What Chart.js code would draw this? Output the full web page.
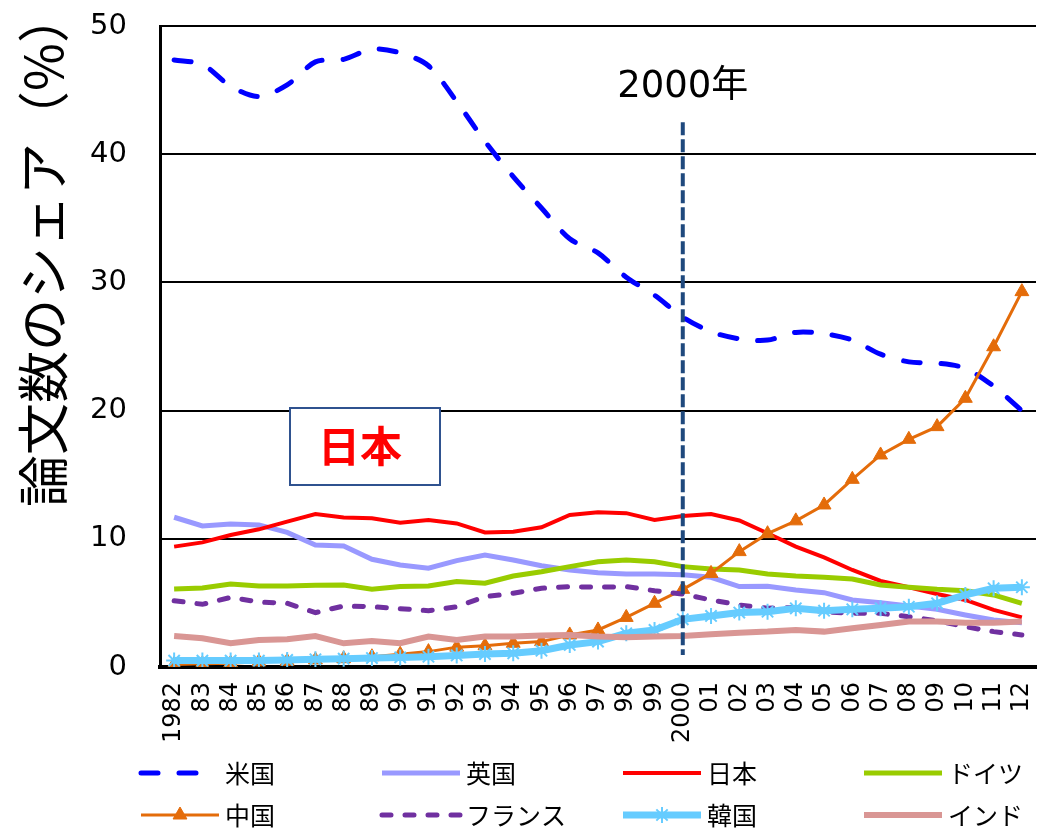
<!DOCTYPE html>
<html>
<head>
<meta charset="utf-8">
<script src="https://cdn.jsdelivr.net/npm/chart.js@4/dist/chart.umd.min.js"></script>
<style>
  html, body { margin: 0; padding: 0; background: #fff; }
  #wrap { width: 1047px; height: 830px; position: relative; }
</style>
</head>
<body>
<div id="wrap"><canvas id="shareChart"></canvas></div>
<script>
const years = ['1982', '83', '84', '85', '86', '87', '88', '89', '90', '91', '92', '93', '94', '95', '96', '97', '98', '99',
    '2000', '01', '02', '03', '04', '05', '06', '07', '08', '09', '10', '11', '12'];
const yTicks = [0, 10, 20, 30, 40, 50];
const yTitle = '論文数のシェア（%）';

const usShare = [47.35, 47.0, 45.3, 44.5, 45.4, 47.2, 47.4, 48.2, 47.9, 46.9, 44.1,
    41.0, 38.25, 35.8, 33.4, 32.3, 30.4, 29.0,
    27.3, 26.15, 25.6, 25.5, 26.1, 26.0, 25.5, 24.4, 23.8, 23.7, 23.3, 21.9, 20.0];
const ukShare = [11.68, 11.0, 11.15, 11.08, 10.5, 9.52, 9.44, 8.4, 7.96, 7.7, 8.3,
    8.74, 8.35, 7.9, 7.57, 7.36, 7.25, 7.25,
    7.2, 7.0, 6.27, 6.3, 6.0, 5.8, 5.23, 5.02, 4.76, 4.5, 4.06, 3.67, 3.46];
const japanShare = [9.39, 9.72, 10.3, 10.74, 11.34, 11.93, 11.67, 11.6, 11.26, 11.47, 11.2,
    10.5, 10.55, 10.9, 11.86, 12.07, 12.0, 11.47,
    11.78, 11.93, 11.43, 10.43, 9.39, 8.55, 7.57, 6.71, 6.22, 5.69, 5.23, 4.45, 3.87];
const germanyShare = [6.08, 6.16, 6.47, 6.32, 6.32, 6.37, 6.4, 6.06, 6.27, 6.32, 6.66,
    6.53, 7.1, 7.43, 7.83, 8.21, 8.35, 8.21,
    7.83, 7.64, 7.57, 7.25, 7.1, 7.0, 6.86, 6.4, 6.22, 6.06, 5.95, 5.62, 4.97];
const chinaShare = [0.2, 0.25, 0.3, 0.4, 0.45, 0.55, 0.65, 0.8, 1.0, 1.2, 1.55,
    1.66, 1.85, 1.98, 2.5, 2.89, 3.87, 4.97,
    6.06, 7.3, 9.0, 10.4, 11.4, 12.64, 14.64, 16.54, 17.76, 18.75, 20.96, 24.98, 29.28];
const franceShare = [5.17, 4.89, 5.43, 5.07, 4.97, 4.24, 4.76, 4.7, 4.55, 4.39, 4.7,
    5.48, 5.75, 6.14, 6.27, 6.22, 6.27, 5.95,
    5.69, 5.23, 4.84, 4.58, 4.65, 4.31, 4.19, 4.19, 3.92, 3.61, 3.14, 2.76, 2.5];
const koreaShare = [0.5, 0.5, 0.5, 0.5, 0.55, 0.6, 0.65, 0.7, 0.75, 0.8, 0.9,
    1.01, 1.07, 1.27, 1.72, 1.98, 2.63, 2.89,
    3.72, 3.98, 4.25, 4.31, 4.58, 4.39, 4.5, 4.58, 4.7, 4.97, 5.62, 6.14, 6.22];
const indiaShare = [2.42, 2.24, 1.85, 2.11, 2.16, 2.42, 1.85, 2.03, 1.85, 2.37, 2.11,
    2.37, 2.37, 2.45, 2.5, 2.37, 2.32, 2.37,
    2.42, 2.55, 2.68, 2.76, 2.89, 2.76, 3.02, 3.28, 3.54, 3.54, 3.46, 3.46, 3.54];

const markerYear = '2000';
const markerRange = [0.94, 42.5];

Chart.defaults.font.family = '"DejaVu Sans", "Noto Sans CJK JP", sans-serif';
Chart.defaults.color = '#000';

function lineSet(label, data, color, width, extra) {
    return Object.assign({
        label: label,
        data: data,
        borderColor: color,
        backgroundColor: color,
        borderWidth: width,
        pointRadius: 0,
        tension: 0,
        fill: false
    }, extra || {});
}

const datasets = [
    lineSet('米国', usShare, '#0000ff', 5, { borderDash: [17, 21], borderCapStyle: 'round', tension: 0.3 }),
    lineSet('英国', ukShare, '#9999ff', 5),
    lineSet('日本', japanShare, '#ff0000', 4),
    lineSet('ドイツ', germanyShare, '#99cc00', 5),
    lineSet('中国', chinaShare, '#e46c0a', 3, { pointStyle: 'triangle', pointRadius: 8, pointBorderWidth: 1 }),
    lineSet('フランス', franceShare, '#7030a0', 5, { borderDash: [9, 14], borderCapStyle: 'round' }),
    lineSet('韓国', koreaShare, '#66ccff', 7, { pointStyle: 'star', pointRadius: 8, pointBorderWidth: 2 }),
    lineSet('インド', indiaShare, '#d99694', 6)
];
// later series sit on top, like the original
datasets.forEach((ds, i) => { ds.order = datasets.length - i; });

const annotations = {
    id: 'annotations',
    afterDatasetsDraw(chart) {
        const { ctx } = chart;
        const x = chart.scales.x;
        const y = chart.scales.y;
        const px = x.getPixelForValue(years.indexOf(markerYear));

        ctx.save();
        ctx.strokeStyle = '#1f497d';
        ctx.lineWidth = 4;
        ctx.setLineDash([13, 4]);
        ctx.beginPath();
        ctx.moveTo(px, y.getPixelForValue(markerRange[1]));
        ctx.lineTo(px, y.getPixelForValue(markerRange[0]));
        ctx.stroke();
        ctx.setLineDash([]);

        ctx.fillStyle = '#000';
        ctx.font = '37px "DejaVu Sans", "Noto Sans CJK JP"';
        ctx.textAlign = 'center';
        ctx.textBaseline = 'middle';
        ctx.fillText('2000年', px, 87);

        ctx.fillStyle = '#fff';
        ctx.fillRect(290, 408, 150, 77);
        ctx.strokeStyle = '#2f528f';
        ctx.lineWidth = 2;
        ctx.strokeRect(290, 408, 150, 77);
        ctx.fillStyle = '#ff0000';
        ctx.font = 'bold 42px "Noto Sans CJK JP"';
        ctx.fillText('日本', 360, 446);

        // vertical axis title, placed like the original (upper part of the axis)
        ctx.translate(43, 507);
        ctx.rotate(-Math.PI / 2);
        ctx.fillStyle = '#000';
        ctx.font = '52px "Noto Sans CJK JP"';
        ctx.textAlign = 'left';
        ctx.fillText(yTitle, 0, 0);
        ctx.restore();
    }
};

const gridLegend = {
    id: 'gridLegend',
    afterDraw(chart) {
        const { ctx } = chart;
        ctx.save();
        chart.data.datasets.forEach((ds, i) => {
            const x0 = 141 + (i % 4) * 241;
            const yy = 773 + Math.floor(i / 4) * 42;
            const len = ds.borderDash && ds.borderDash[0] > 12 ? 62 : 78;
            ctx.strokeStyle = ds.borderColor;
            ctx.lineWidth = ds.borderWidth;
            ctx.lineCap = ds.borderDash ? 'round' : 'butt';
            ctx.setLineDash(ds.borderDash || []);
            ctx.beginPath();
            ctx.moveTo(x0, yy);
            ctx.lineTo(x0 + len, yy);
            ctx.stroke();
            ctx.setLineDash([]);
            if (ds.pointStyle) {
                ctx.fillStyle = ds.borderColor;
                ctx.lineWidth = ds.pointBorderWidth || 1;
                Chart.helpers.drawPoint(ctx, { pointStyle: ds.pointStyle, radius: ds.pointRadius, rotation: 0, borderWidth: ds.pointBorderWidth }, x0 + len / 2, yy);
            }
            ctx.fillStyle = '#000';
            ctx.font = '25px "Noto Sans CJK JP"';
            ctx.textAlign = 'left';
            ctx.textBaseline = 'middle';
            ctx.fillText(ds.label, x0 + 84, yy);
        });
        ctx.restore();
    }
};

new Chart(document.getElementById('shareChart'), {
    type: 'line',
    data: { labels: years, datasets: datasets },
    options: {
        responsive: true,
        maintainAspectRatio: false,
        animation: false,
        layout: { padding: { left: 0, right: 11, top: 26, bottom: 73 } },
        plugins: {
            legend: { display: false },
            tooltip: { enabled: false }
        },
        scales: {
            x: {
                offset: true,
                afterFit(scale) {
                    scale.height = 90;
                    scale.paddingLeft = 0;
                    scale.paddingRight = 0;
                },
                grid: { display: false, drawTicks: false },
                border: { color: '#000', width: 4 },
                ticks: {
                    autoSkip: false,
                    minRotation: 90,
                    maxRotation: 90,
                    padding: 15,
                    font: { size: 24 }
                }
            },
            y: {
                min: yTicks[0],
                max: yTicks[yTicks.length - 1],
                afterFit(scale) {
                    scale.width = 160;
                    scale.paddingTop = 0;
                    scale.paddingBottom = 0;
                },
                afterBuildTicks(scale) { scale.ticks = yTicks.map(v => ({ value: v })); },
                grid: { color: '#000', lineWidth: 2, drawTicks: false },
                border: { color: '#000', width: 3 },
                ticks: { padding: 33, font: { size: 29 } },
                title: { display: false }
            }
        }
    },
    plugins: [annotations, gridLegend]
});
</script>
</body>
</html>
